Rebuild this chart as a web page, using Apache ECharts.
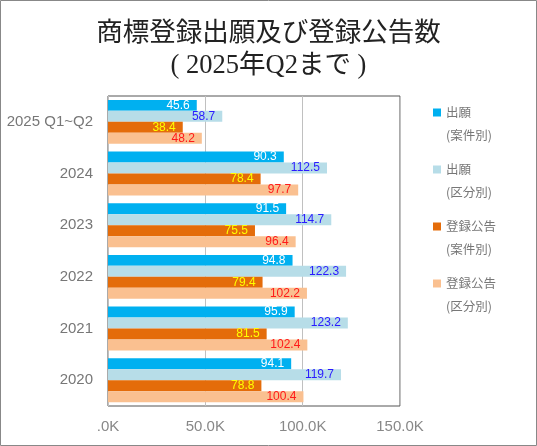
<!DOCTYPE html>
<html>
<head>
<meta charset="utf-8">
<script src="https://cdn.jsdelivr.net/npm/echarts@6/dist/echarts.min.js"></script>
<style>
  html, body { margin: 0; padding: 0; background: #fff; }
  #chart { width: 537px; height: 446px; }
</style>
</head>
<body>
<div id="chart"></div>
<script>
// 年別カテゴリ（上から順）
const categories = ["2025 Q1~Q2", "2024", "2023", "2022", "2021", "2020"];

// 単位: 件
const appCases = [45600, 90300, 91500, 94800, 95900, 94100];      // 出願(案件別)
const appClasses = [58700, 112500, 114700, 122300, 123200, 119700]; // 出願(区分別)
const regCases = [38400, 78400, 75500, 79400, 81500, 78800];      // 登録公告(案件別)
const regClasses = [48200, 97700, 96400, 102200, 102400, 100400]; // 登録公告(区分別)

const seriesNames = ["出願\n(案件別)", "出願\n(区分別)", "登録公告\n(案件別)", "登録公告\n(区分別)"];
const barColors = ["#00b0f0", "#b7dde8", "#e46c0a", "#fac090"];
const labelColors = ["#ffffff", "#2a1aff", "#ffff00", "#ff1a1a"];

const chart = echarts.init(document.getElementById("chart"));

// 0 は ".0K" 表示（元の表計算ソフトの書式に合わせる）
function kFmt(v) {
    if (v === 0) return ".0K";
    return (v / 1000).toFixed(1) + "K";
}

const seriesData = [appCases, appClasses, regCases, regClasses];

const option = {
    animation: false,
    title: {
        text: "商標登録出願及び登録公告数\n( 2025年Q2まで )",
        left: "center",
        top: 13,
        textStyle: {
            fontFamily: "'Liberation Serif', 'Noto Sans CJK JP'",
            fontWeight: "normal",
            fontSize: 26.5,
            lineHeight: 32,
            color: "#222",
        },
    },
    legend: {
        orient: "vertical",
        left: 428,
        top: 73,
        itemWidth: 8,
        itemHeight: 8,
        itemGap: -12,
        icon: "rect",
        // 先頭に空行を入れて、アイコンを1行目の高さに揃える
        formatter: (name) => "\n" + name,
        textStyle: {
            fontFamily: "'Noto Sans CJK JP'",
            fontSize: 12.5,
            lineHeight: 23,
            color: "#777",
        },
        data: seriesNames,
    },
    grid: {
        left: 108,
        top: 96,
        right: 137,
        bottom: 40,
        show: true,
        borderColor: "#555",
        borderWidth: 1,
        containLabel: false,
    },
    xAxis: {
        type: "value",
        min: 0,
        max: 150000,
        interval: 50000,
        axisLine: { show: false },
        axisTick: { show: false },
        splitLine: { lineStyle: { color: "#c0c0c0" } },
        axisLabel: {
            formatter: kFmt,
            color: "#888",
            fontSize: 15,
            fontFamily: "'Liberation Sans', Arial",
            margin: 13,
        },
    },
    yAxis: {
        type: "category",
        inverse: true,
        data: categories,
        axisLine: { show: false },
        axisTick: { show: false },
        axisLabel: {
            color: "#777",
            fontSize: 15,
            fontFamily: "'Liberation Sans', Arial",
            margin: 15,
        },
    },
    series: seriesNames.map((name, i) => ({
        name: name,
        type: "bar",
        data: seriesData[i],
        barGap: "0%",
        barCategoryGap: "15%",
        itemStyle: { color: barColors[i] },
        label: {
            show: true,
            position: "insideRight",
            distance: 7,
            color: labelColors[i],
            fontSize: 12,
            fontFamily: "'Liberation Sans', Arial",
            formatter: (p) => (p.value / 1000).toFixed(1),
        },
    })),
    graphic: [
        {
            type: "rect",
            shape: { x: 0.5, y: 0.5, width: 536, height: 445 },
            style: { fill: "none", stroke: "#888", lineWidth: 1 },
            silent: true,
        },
    ],
};

chart.setOption(option);
</script>
</body>
</html>
